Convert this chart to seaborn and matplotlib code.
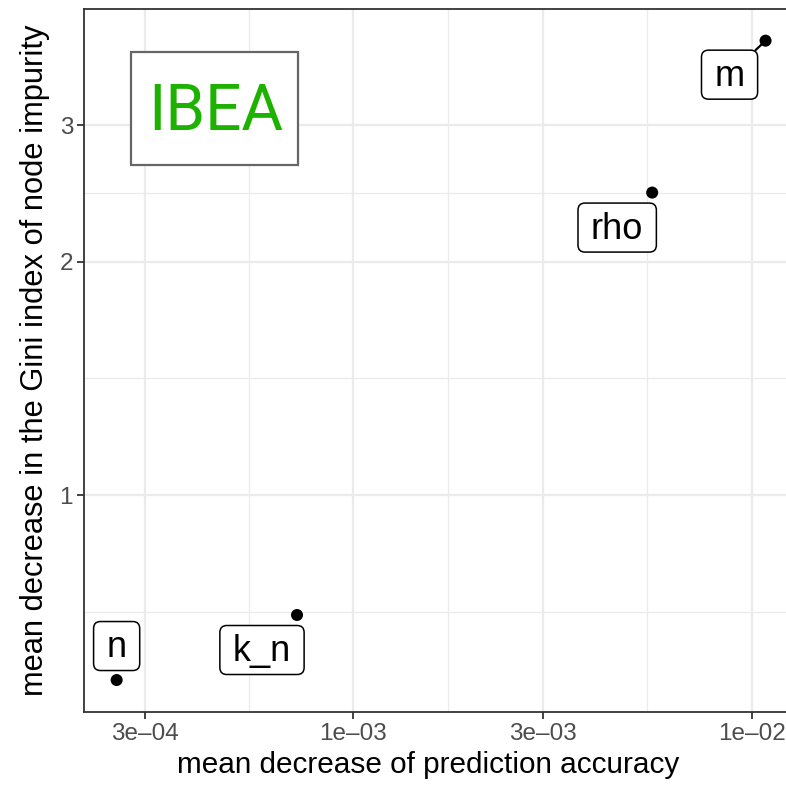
import numpy as np
import pandas as pd
import matplotlib
matplotlib.use("Agg")
import matplotlib.pyplot as plt
from matplotlib.patches import FancyBboxPatch, Rectangle
from matplotlib.transforms import IdentityTransform
import seaborn as sns

# values
params = ["n", "k_n", "rho", "m"]
accuracy = [2.55e-4, 7.23e-4, 5.63e-3, 1.084e-2]
gini = [0.578, 0.701, 2.455, 3.853]
# where the repelled label boxes sit, in pixels from their point
label_dx = [0, -35, -35, -36]
label_dy = [34, -35, -35, -34]
with_segment = [False, False, False, True]

x_ticks = [3e-4, 1e-3, 3e-3, 1e-2]
x_ticklabels = ["3e\u201304", "1e\u201303", "3e\u201303", "1e\u201302"]
y_ticks = [1, 2, 3]

df = pd.DataFrame({"param": params, "acc": accuracy, "gini": gini})

sns.set_theme(style="white")
plt.rcParams["font.family"] = ["Liberation Sans", "DejaVu Sans"]

fig = plt.figure(figsize=(7.86, 7.87), dpi=100)
ax = fig.add_axes([84.2 / 786, 75 / 787, (798 - 84.2) / 786, (712 - 8.7) / 787])

sns.scatterplot(data=df, x="acc", y="gini", ax=ax, color="black", s=75,
                edgecolor="none", zorder=5)
ax.set_xscale("log")
ax.set_yscale("log")

# ggplot-like 5% expansion in transformed space
lx = np.log10(df["acc"])
ly = np.log(df["gini"])
ex = (lx.max() - lx.min()) * 0.05
ey = (ly.max() - ly.min()) * 0.05
ax.set_xlim(10 ** (lx.min() - ex), 10 ** (lx.max() + ex))
ax.set_ylim(np.exp(ly.min() - ey), np.exp(ly.max() + ey))

ax.set_xticks(x_ticks)
ax.set_xticklabels(x_ticklabels)
ax.set_yticks(y_ticks)
ax.set_yticklabels([str(v) for v in y_ticks])
xminor = [np.sqrt(x_ticks[i] * x_ticks[i + 1]) for i in range(len(x_ticks) - 1)]
yminor = [np.sqrt(y_ticks[0] ** 2 / 2)] + [np.sqrt(y_ticks[i] * y_ticks[i + 1]) for i in range(len(y_ticks) - 1)]
ax.set_xticks(xminor, minor=True)
ax.set_yticks(yminor, minor=True)
ax.set_xticklabels([], minor=True)
ax.set_yticklabels([], minor=True)

ax.grid(True, which="major", color="#EBEBEB", linewidth=1.6)
ax.grid(True, which="minor", color="#EBEBEB", linewidth=0.9)
ax.set_axisbelow(True)
for sp in ax.spines.values():
    sp.set_color("#333333")
    sp.set_linewidth(1.3)

ax.tick_params(axis="both", which="major", length=5, width=1.3, color="#333333",
               labelsize=17.5, labelcolor="#4D4D4D", pad=3, bottom=True, left=True)
ax.tick_params(axis="both", which="minor", length=0)

ax.set_xlabel("mean decrease of prediction accuracy", fontsize=21.4, color="black")
ax.set_ylabel("mean decrease in the Gini index of node impurity", fontsize=22.2, color="black", labelpad=7)
ax.xaxis.set_label_coords(0.4824, -0.056, transform=ax.transAxes)
ax.xaxis.label.set_va("top")

# labels: text first, then boxes sized to the drawn text (ggrepel style)
texts = []
for i, row in df.iterrows():
    t = ax.annotate(row["param"], (row["acc"], row["gini"]),
                    xytext=(label_dx[i], label_dy[i] - 11), textcoords="offset pixels",
                    ha="center", va="baseline", fontsize=26, color="black", zorder=7)
    texts.append(t)

fig.canvas.draw()
renderer = fig.canvas.get_renderer()
box_h = 49
for i, row in df.iterrows():
    px, py = ax.transData.transform((row["acc"], row["gini"]))
    cx, cy = px + label_dx[i], py + label_dy[i]
    w = texts[i].get_window_extent(renderer).width + 26
    ax.add_patch(FancyBboxPatch((cx - w / 2, cy - box_h / 2), w, box_h,
                                boxstyle="round,pad=0,rounding_size=7",
                                fc="white", ec="black", lw=1.1,
                                transform=IdentityTransform(), zorder=6))
    if with_segment[i]:
        ddx, ddy = px - cx, py - cy
        t_edge = min((w / 2) / abs(ddx), (box_h / 2) / abs(ddy))
        sx, sy = cx + ddx * t_edge, cy + ddy * t_edge
        ax.plot([sx, px], [sy, py], color="black", lw=1.6,
                transform=IdentityTransform(), zorder=5)

# IBEA panel tag
ax.add_patch(Rectangle((0.0651, 0.778), 0.235, 0.160, transform=ax.transAxes,
                       fc="white", ec="#666666", lw=1.6, zorder=6))
ax.text(0.184, 0.8275, "IBEA", transform=ax.transAxes, ha="center", va="baseline",
        fontsize=46, color="#1DB200", family=["Roboto", "Liberation Sans"],
        fontweight="normal", zorder=7)

fig.savefig("out.png", dpi=100)
